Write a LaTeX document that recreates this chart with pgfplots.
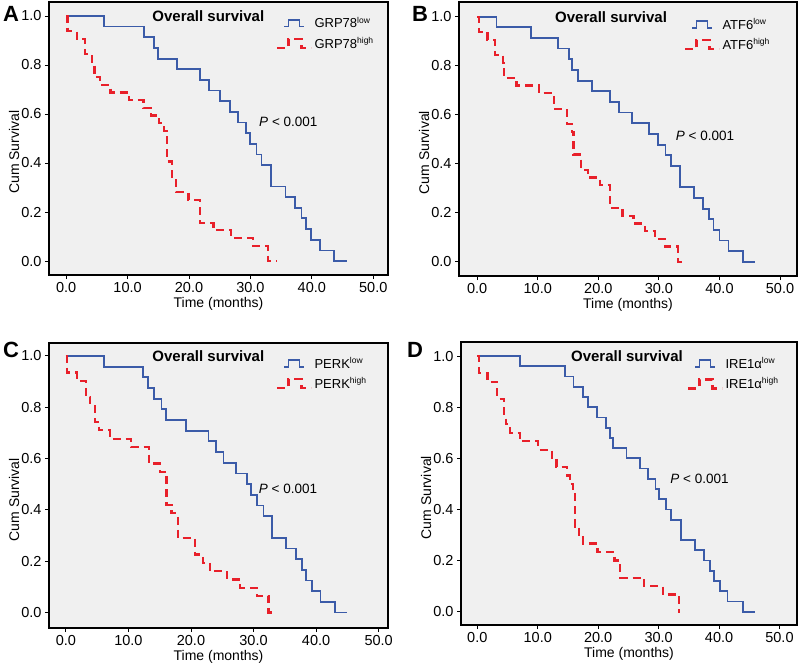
\documentclass[border=0pt]{standalone}
\usepackage{pgfplots}
\pgfplotsset{compat=1.18}
\usepackage{fontspec}
\setmainfont{Liberation Sans}
\definecolor{kmblue}{HTML}{3B5BA8}
\definecolor{kmred}{HTML}{E8202A}
\definecolor{bg}{HTML}{F0F0F0}
\newcommand{\sups}[1]{\raisebox{0.7ex}{\fontsize{8.5}{9}\selectfont #1}}
\pgfplotsset{
 km/.style={
  scale only axis, anchor=south west,
  axis background/.style={fill=bg},
  axis line style={line width=1.6pt},
  xtick={0,10,20,30,40,50}, ytick={0,0.2,0.4,0.6,0.8,1},
  xtick pos=bottom, ytick pos=left, tick align=outside, major tick length=4pt,
  every tick/.style={black, line width=0.8pt},
  tick label style={font=\fontsize{14.5}{16}\selectfont},
  /pgf/number format/fixed, /pgf/number format/fixed zerofill, /pgf/number format/precision=1,
  /pgf/number format/assume math mode=true,
  xlabel={Time (months)}, ylabel={Cum Survival},
  every axis x label/.style={at={(axis description cs:0.5,0)}, anchor=center, yshift=-29pt, font=\fontsize{14}{16}\selectfont},
  every axis y label/.style={at={(axis description cs:0,0.45)}, anchor=center, rotate=90, yshift=35pt, font=\fontsize{14}{16}\selectfont},
  every axis title shift=0pt,
  title style={font=\bfseries\fontsize{15}{17}\selectfont, anchor=center, yshift=0pt},
  legend style={draw=none, fill=none, anchor=north west, font=\fontsize{13}{15}\selectfont, inner sep=0pt, row sep=4pt},
  legend cell align=left,
 },
 lowline/.style={const plot, color=kmblue, line width=1.8pt,
  legend image code/.code={\path[draw=none,fill=none] (0pt,0pt) (34pt,0pt); \draw[##1] (7pt,-3.3pt) -- (11pt,-3.3pt) -- (11pt,3.3pt) -- (22pt,3.3pt) -- (22pt,-3.3pt) -- (27pt,-3.3pt);}},
 highline/.style={const plot, color=kmred, line width=2.2pt, dash pattern=on 8pt off 5pt,
  legend image code/.code={\draw[##1] (0pt,-4.5pt) -- (11pt,-4.5pt) -- (11pt,4.5pt) -- (24pt,4.5pt) -- (24pt,-4.5pt) -- (34pt,-4.5pt);}},
}
\begin{document}
\begin{tikzpicture}
\useasboundingbox (0,0) rectangle (800pt,665pt);
% ---------------- A
\begin{axis}[km, at={(49pt,390pt)}, width=339pt, height=273pt,
  xmin=-2.8, xmax=52.4, ymin=-0.057, ymax=1.057,
  title={Overall survival}, title style={at={(axis description cs:0.47,0.947)}},
  legend style={at={(axis description cs:0.67,0.953)}}]
\addplot[lowline] coordinates {(0,1)(6.1,0.957)(12.7,0.913)(14.3,0.870)(14.9,0.826)(18.0,0.783)(21.8,0.739)(23.3,0.696)(25.1,0.652)(26.7,0.609)(28.0,0.565)(29.3,0.522)(29.9,0.478)(31.0,0.435)(31.8,0.391)(33.4,0.304)(35.7,0.261)(37.3,0.217)(38.3,0.174)(39.0,0.130)(39.9,0.087)(41.3,0.043)(43.6,0)(45.8,0)};
\addlegendentry{GRP78\sups{low}}
\addplot[highline] coordinates {(0,1)(0.2,0.9375)(1.7,0.906)(3.1,0.844)(4.2,0.8125)(4.6,0.75)(5.5,0.719)(7.2,0.6875)(10.2,0.656)(12.6,0.625)(13.8,0.594)(15.1,0.5625)(15.9,0.531)(16.4,0.406)(17.2,0.344)(17.9,0.281)(19.9,0.25)(21.8,0.156)(24.0,0.125)(26.8,0.094)(30.4,0.0625)(32.9,0)(34.2,0)};
\addlegendentry{GRP78\sups{high}}
\node[font=\fontsize{13.5}{15}\selectfont] at (rel axis cs:0.706,0.562) {\textit{P} < 0.001};
\end{axis}
% ---------------- B
\begin{axis}[km, at={(459pt,389pt)}, width=338pt, height=274pt,
  xmin=-3.0, xmax=52.8, ymin=-0.058, ymax=1.06,
  title={Overall survival}, title style={at={(axis description cs:0.45,0.943)}},
  legend style={at={(axis description cs:0.666,0.949)}}]
\addplot[lowline] coordinates {(0,1)(3.2,0.957)(8.9,0.913)(13.4,0.870)(15.1,0.826)(15.7,0.783)(16.7,0.739)(18.9,0.696)(21.9,0.652)(23.4,0.609)(25.6,0.565)(28.4,0.522)(29.9,0.478)(31.1,0.435)(32.0,0.391)(33.5,0.304)(35.8,0.261)(37.3,0.217)(38.3,0.174)(39.0,0.130)(40.0,0.087)(41.5,0.043)(43.9,0)(45.9,0)};
\addlegendentry{ATF6\sups{low}}
\addplot[highline] coordinates {(0,1)(0.3,0.9375)(1.7,0.906)(2.9,0.844)(4.3,0.8125)(4.4,0.75)(6.5,0.719)(10.2,0.6875)(12.7,0.625)(14.8,0.5625)(15.6,0.531)(15.9,0.4375)(17.2,0.375)(18.3,0.344)(20.3,0.3125)(21.9,0.219)(24.0,0.1875)(25.8,0.156)(27.7,0.125)(29.4,0.094)(31.0,0.0625)(33.1,0)(34.4,0)};
\addlegendentry{ATF6\sups{high}}
\node[font=\fontsize{13.5}{15}\selectfont] at (rel axis cs:0.728,0.511) {\textit{P} < 0.001};
\end{axis}
% ---------------- C
\begin{axis}[km, at={(49pt,37pt)}, width=339pt, height=285pt,
  xmin=-2.7, xmax=51.5, ymin=-0.06, ymax=1.05,
  title={Overall survival}, title style={at={(axis description cs:0.47,0.954)}},
  legend style={at={(axis description cs:0.67,0.958)}}]
\addplot[lowline] coordinates {(0,1)(6.1,0.958)(12.3,0.917)(13.1,0.875)(14.1,0.833)(15.3,0.792)(16.0,0.75)(19.2,0.708)(22.8,0.667)(24.0,0.625)(25.2,0.583)(27.2,0.542)(28.9,0.5)(29.6,0.458)(30.6,0.417)(31.6,0.375)(32.9,0.292)(35.2,0.25)(36.8,0.208)(37.7,0.167)(38.4,0.125)(39.4,0.083)(40.7,0.042)(43.0,0)(45.0,0)};
\addlegendentry{PERK\sups{low}}
\addplot[highline] coordinates {(0,1)(0.2,0.935)(1.8,0.903)(3.2,0.839)(3.9,0.806)(4.6,0.742)(5.3,0.71)(7.0,0.677)(10.4,0.645)(13.3,0.581)(15.0,0.548)(16.1,0.419)(16.9,0.387)(17.9,0.29)(20.6,0.226)(21.9,0.194)(23.0,0.161)(25.8,0.129)(27.9,0.097)(30.5,0.065)(32.4,0)(33.6,0)};
\addlegendentry{PERK\sups{high}}
\node[font=\fontsize{13.5}{15}\selectfont] at (rel axis cs:0.705,0.488) {\textit{P} < 0.001};
\end{axis}
% ---------------- D
\begin{axis}[km, at={(461pt,40pt)}, width=336pt, height=283pt,
  xmin=-2.7, xmax=52.9, ymin=-0.052, ymax=1.055,
  title={Overall survival}, title style={at={(axis description cs:0.494,0.95)}},
  legend style={at={(axis description cs:0.673,0.954)}}]
\addplot[lowline] coordinates {(0,1)(7.1,0.96)(14.5,0.92)(15.9,0.88)(17.5,0.84)(18.3,0.8)(19.8,0.76)(21.3,0.72)(21.9,0.68)(22.4,0.64)(24.7,0.6)(26.9,0.56)(28.2,0.52)(29.5,0.48)(30.1,0.44)(31.2,0.4)(32.0,0.36)(33.7,0.28)(36.0,0.24)(37.5,0.2)(38.5,0.16)(39.2,0.12)(40.1,0.08)(41.4,0.04)(44.0,0)(45.9,0)};
\addlegendentry{IRE1α\sups{low}}
\addplot[highline] coordinates {(0,1)(0.3,0.933)(1.7,0.9)(3.3,0.833)(4.4,0.767)(4.7,0.733)(5.4,0.7)(7.0,0.667)(10.1,0.633)(12.3,0.6)(13.1,0.567)(14.9,0.533)(15.3,0.5)(15.8,0.467)(16.1,0.333)(16.8,0.3)(17.5,0.267)(19.9,0.233)(22.7,0.2)(23.6,0.133)(27.6,0.1)(30.7,0.067)(33.4,0)(33.6,0)};
\addlegendentry{IRE1α\sups{high}}
\node[font=\fontsize{13.5}{15}\selectfont] at (rel axis cs:0.71,0.516) {\textit{P} < 0.001};
\end{axis}
% panel letters
\node[font=\bfseries\fontsize{22}{24}\selectfont, anchor=base west, inner sep=0pt] at (3pt,643pt) {A};
\node[font=\bfseries\fontsize{22}{24}\selectfont, anchor=base west, inner sep=0pt] at (412pt,643pt) {B};
\node[font=\bfseries\fontsize{22}{24}\selectfont, anchor=base west, inner sep=0pt] at (3pt,308pt) {C};
\node[font=\bfseries\fontsize{22}{24}\selectfont, anchor=base west, inner sep=0pt] at (407pt,308pt) {D};
\end{tikzpicture}
\end{document}
